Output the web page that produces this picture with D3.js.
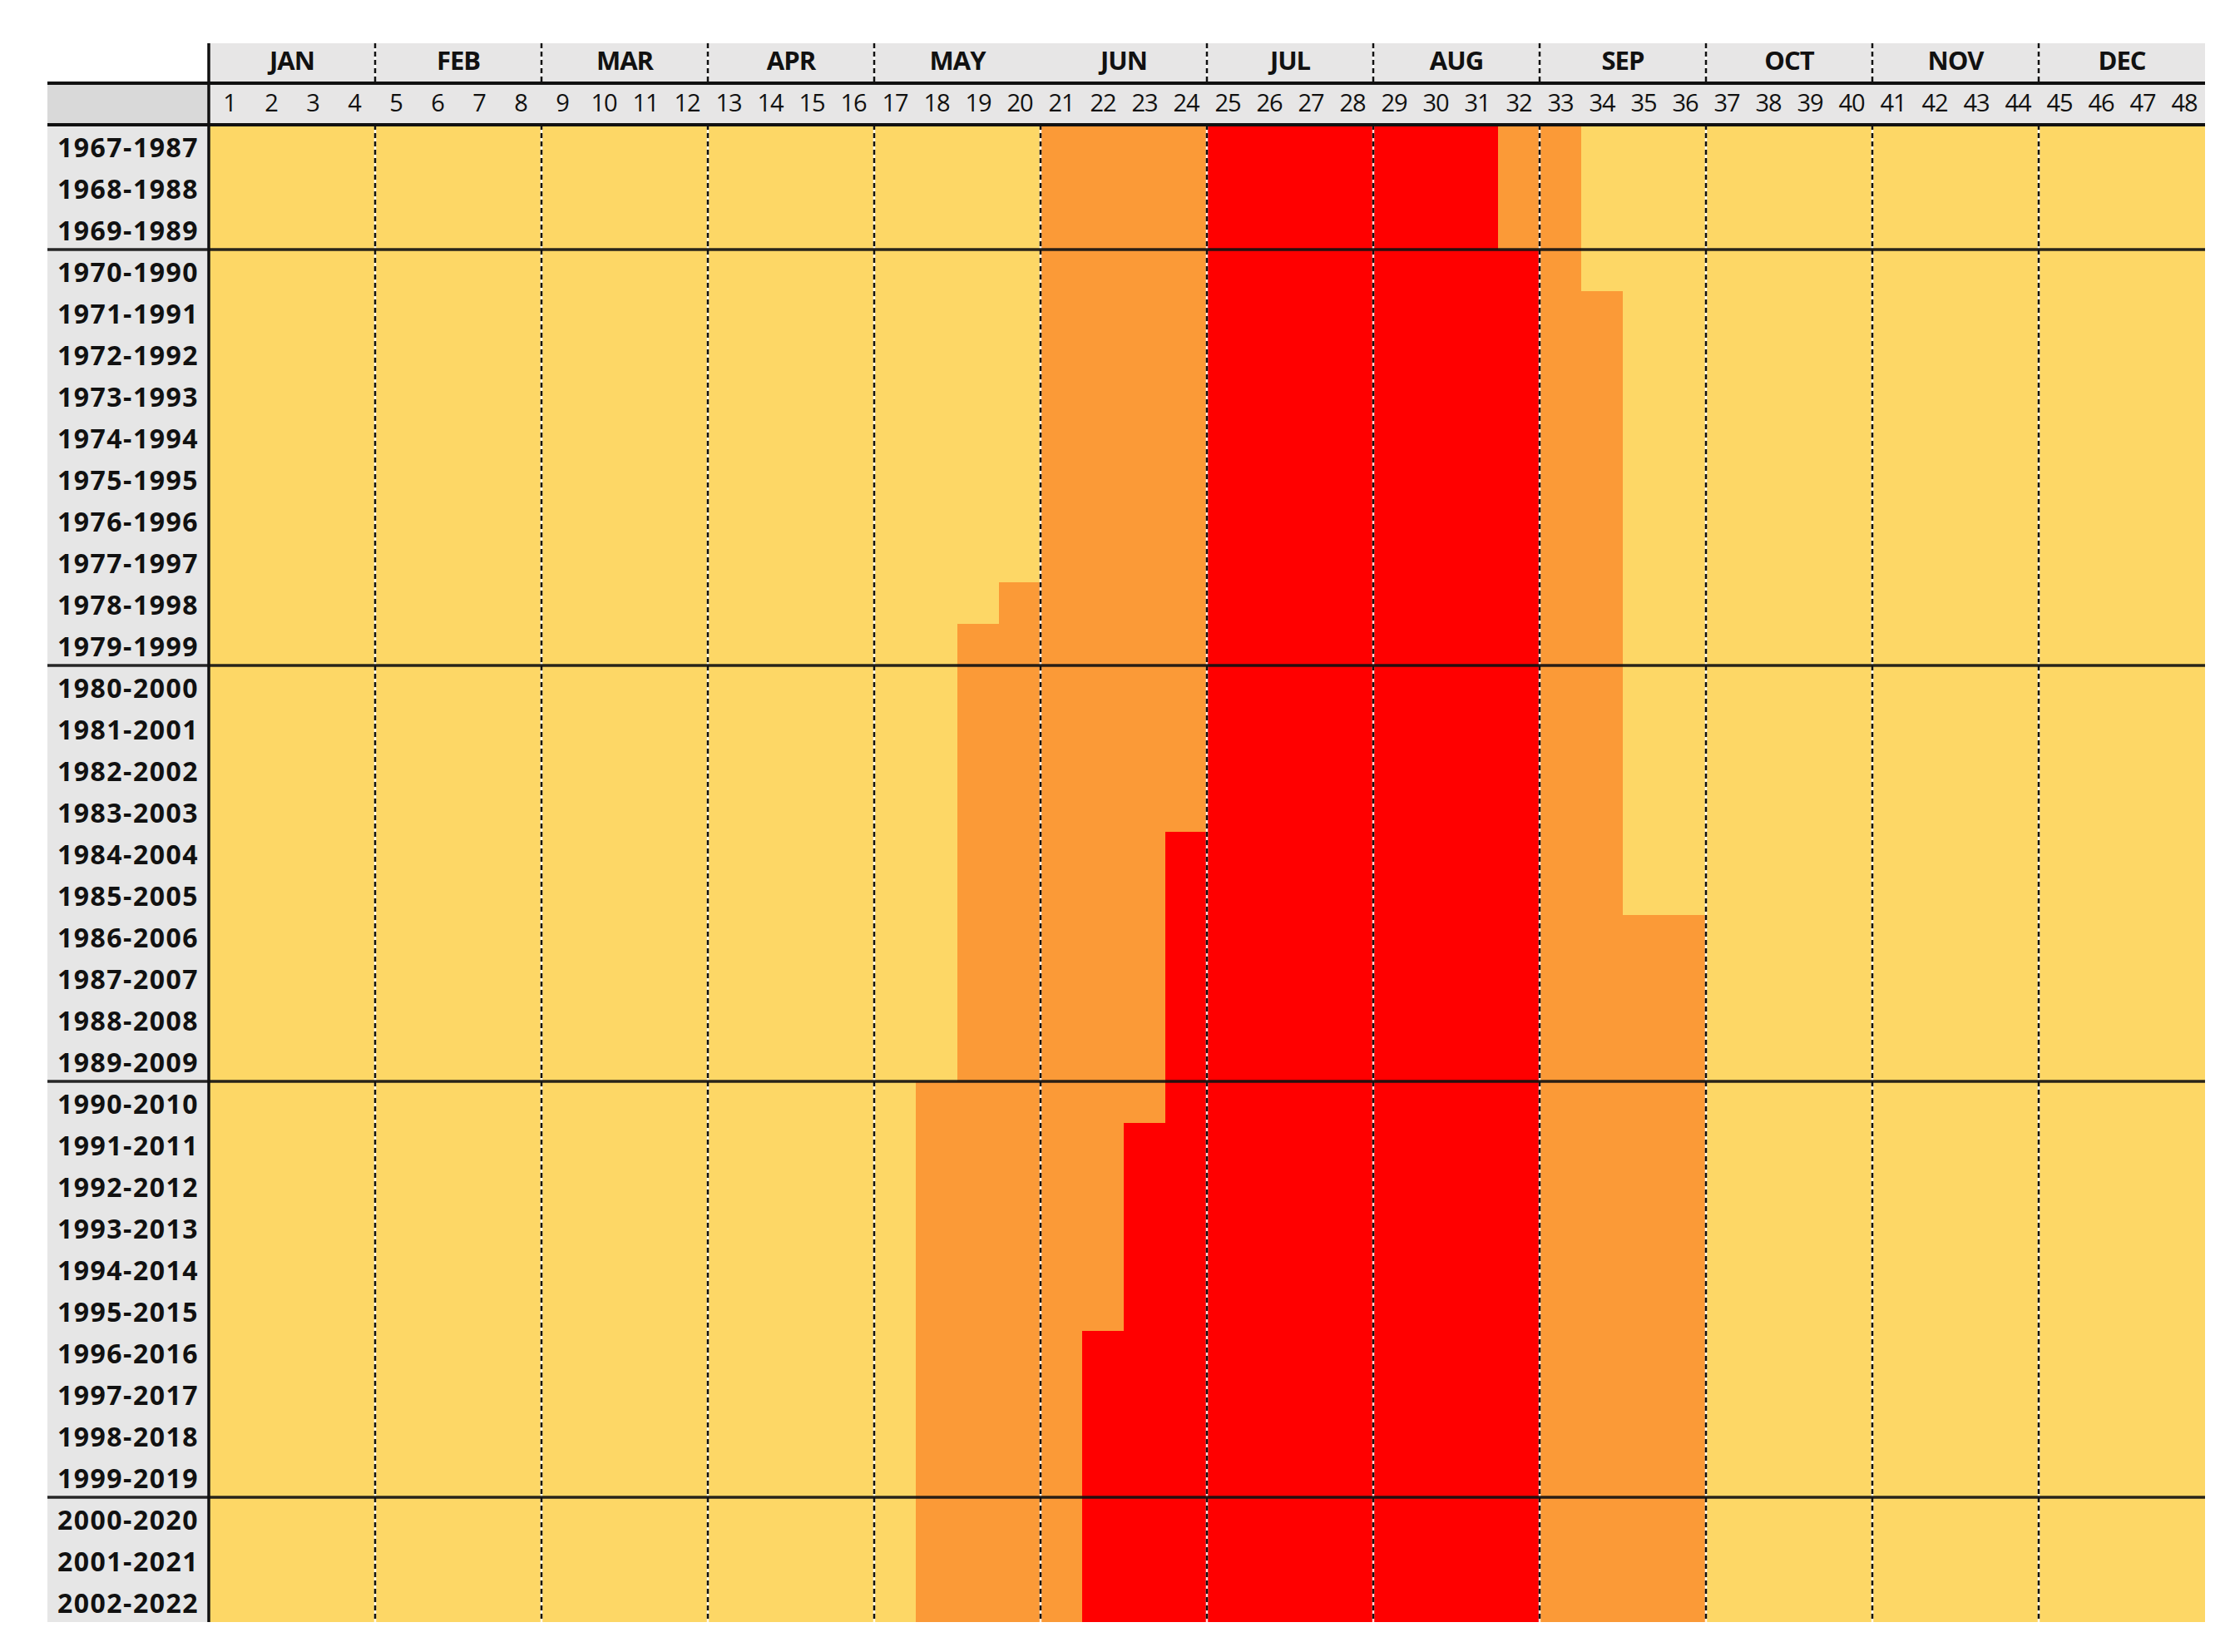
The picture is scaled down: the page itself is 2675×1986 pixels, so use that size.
<!DOCTYPE html>
<html>
<head>
<meta charset="utf-8">
<script src="https://cdn.jsdelivr.net/npm/d3@7"></script>
<style>
  body { margin: 0; background: #fff; }
  text { font-family: "Open Sans", "Liberation Sans", sans-serif; fill: #111; }
</style>
</head>
<body>
<div id="chart"></div>
<script>
// 20-year windows (rows)
var periods = ["1967-1987", "1968-1988", "1969-1989", "1970-1990", "1971-1991", "1972-1992",
  "1973-1993", "1974-1994", "1975-1995", "1976-1996", "1977-1997", "1978-1998", "1979-1999",
  "1980-2000", "1981-2001", "1982-2002", "1983-2003", "1984-2004", "1985-2005", "1986-2006",
  "1987-2007", "1988-2008", "1989-2009", "1990-2010", "1991-2011", "1992-2012", "1993-2013",
  "1994-2014", "1995-2015", "1996-2016", "1997-2017", "1998-2018", "1999-2019", "2000-2020",
  "2001-2021", "2002-2022"];

var months = ["JAN", "FEB", "MAR", "APR", "MAY", "JUN", "JUL", "AUG", "SEP", "OCT", "NOV", "DEC"];
var weeks = [1, 2, 3, 4, 5, 6, 7, 8, 9, 10, 11, 12, 13, 14, 15, 16, 17, 18, 19, 20, 21, 22, 23, 24,
  25, 26, 27, 28, 29, 30, 31, 32, 33, 34, 35, 36, 37, 38, 39, 40, 41, 42, 43, 44, 45, 46, 47, 48];

// first / last week of each class, one value per period
var orangeStart = [21, 21, 21, 21, 21, 21, 21, 21, 21, 21, 21, 20, 19, 19, 19, 19, 19, 19,
  19, 19, 19, 19, 19, 18, 18, 18, 18, 18, 18, 18, 18, 18, 18, 18, 18, 18];
var redStart = [25, 25, 25, 25, 25, 25, 25, 25, 25, 25, 25, 25, 25, 25, 25, 25, 25, 24,
  24, 24, 24, 24, 24, 24, 23, 23, 23, 23, 23, 22, 22, 22, 22, 22, 22, 22];
var redEnd = [31, 31, 31, 32, 32, 32, 32, 32, 32, 32, 32, 32, 32, 32, 32, 32, 32, 32,
  32, 32, 32, 32, 32, 32, 32, 32, 32, 32, 32, 32, 32, 32, 32, 32, 32, 32];
var orangeEnd = [33, 33, 33, 33, 34, 34, 34, 34, 34, 34, 34, 34, 34, 34, 34, 34, 34, 34,
  34, 36, 36, 36, 36, 36, 36, 36, 36, 36, 36, 36, 36, 36, 36, 36, 36, 36];

// week boundaries where a month ends; header skips the MAY/JUN one
var monthBreaks = [4, 8, 12, 16, 20, 24, 28, 32, 36, 40, 44];
var headerBreaks = [4, 8, 12, 16, 24, 28, 32, 36, 40, 44];
// thick separators every ten periods
var decadeBreaks = [3, 13, 23, 33];

var colors = {low: "#fdd766", mid: "#fb9a37", high: "#ff0000"};

var W = 2675, H = 1986;
var labelLeft = 57, left = 251, right = 2651;
var monthTop = 52, weekTop = 100, gridTop = 150, gridBottom = 1950;

var x = d3.scaleLinear().domain([0, 48]).range([left, right]);
var y = d3.scaleBand().domain(periods).range([gridTop, gridBottom]);
var yRow = d3.scaleLinear().domain([0, periods.length]).range([gridTop, gridBottom]);

var svg = d3.select("#chart").append("svg")
    .attr("width", W)
    .attr("height", H);

// backgrounds
svg.append("rect")
    .attr("x", left).attr("y", monthTop)
    .attr("width", right - left).attr("height", gridTop - monthTop)
    .attr("fill", "#e7e6e6");
svg.append("rect")
    .attr("x", labelLeft).attr("y", weekTop)
    .attr("width", left - labelLeft).attr("height", gridTop - weekTop)
    .attr("fill", "#d9d9d9");
svg.append("rect")
    .attr("x", labelLeft).attr("y", gridTop)
    .attr("width", left - labelLeft).attr("height", gridBottom - gridTop)
    .attr("fill", "#e6e6e6");

// cells
var cells = [];
periods.forEach((p, i) => {
  weeks.forEach((w) => {
    var c = "low";
    if (w >= orangeStart[i] && w <= orangeEnd[i]) c = "mid";
    if (w >= redStart[i] && w <= redEnd[i]) c = "high";
    cells.push({period: p, week: w, cls: c});
  });
});

svg.append("g")
    .attr("shape-rendering", "crispEdges")
  .selectAll("rect")
  .data(cells)
  .enter().append("rect")
    .attr("x", (d) => x(d.week - 1))
    .attr("y", (d) => y(d.period))
    .attr("width", (d) => x(d.week) - x(d.week - 1))
    .attr("height", y.bandwidth())
    .attr("fill", (d) => colors[d.cls]);

// dashed month dividers (white under, black dashes over)
function dashed(g, xs, y0, y1) {
  g.selectAll(null).data(xs).enter().append("line")
      .attr("x1", (d) => x(d)).attr("x2", (d) => x(d))
      .attr("y1", y0).attr("y2", y1)
      .attr("stroke", "#fff").attr("stroke-opacity", 0.85).attr("stroke-width", 2.5);
  g.selectAll(null).data(xs).enter().append("line")
      .attr("x1", (d) => x(d)).attr("x2", (d) => x(d))
      .attr("y1", y0).attr("y2", y1)
      .attr("stroke", "#111").attr("stroke-width", 2.5)
      .attr("stroke-dasharray", "6,4");
}
var dividers = svg.append("g");
dashed(dividers, monthBreaks, gridTop, gridBottom);
dashed(dividers, headerBreaks, monthTop, weekTop);

// solid rules
var rules = svg.append("g").attr("stroke", "#111");
rules.append("line")
    .attr("x1", labelLeft).attr("x2", right)
    .attr("y1", weekTop).attr("y2", weekTop)
    .attr("stroke-width", 4);
rules.append("line")
    .attr("x1", labelLeft).attr("x2", right)
    .attr("y1", gridTop).attr("y2", gridTop)
    .attr("stroke-width", 4);
rules.selectAll(null).data(decadeBreaks).enter().append("line")
    .attr("x1", labelLeft).attr("x2", right)
    .attr("y1", (d) => yRow(d)).attr("y2", (d) => yRow(d))
    .attr("stroke-width", 3.5)
    .attr("stroke-opacity", 0.9);
rules.append("line")
    .attr("x1", left).attr("x2", left)
    .attr("y1", monthTop).attr("y2", gridBottom)
    .attr("stroke-width", 3.5);

// month names
svg.append("g").selectAll("text")
  .data(months)
  .enter().append("text")
    .attr("x", (d, i) => (x(i * 4) + x(i * 4 + 4)) / 2)
    .attr("y", 84)
    .attr("text-anchor", "middle")
    .attr("font-size", 31)
    .attr("font-weight", "bold")
    .attr("letter-spacing", -1)
    .text((d) => d);

// week numbers
svg.append("g").selectAll("text")
  .data(weeks)
  .enter().append("text")
    .attr("x", (d) => (x(d - 1) + x(d)) / 2)
    .attr("y", 134)
    .attr("text-anchor", "middle")
    .attr("font-size", 29)
    .attr("letter-spacing", -1)
    .text((d) => d);

// period labels
svg.append("g").selectAll("text")
  .data(periods)
  .enter().append("text")
    .attr("x", (labelLeft + left) / 2)
    .attr("y", (d) => y(d) + 39)
    .attr("text-anchor", "middle")
    .attr("font-size", 32)
    .attr("font-weight", "bold")
    .attr("letter-spacing", 1.5)
    .text((d) => d);
</script>
</body>
</html>
